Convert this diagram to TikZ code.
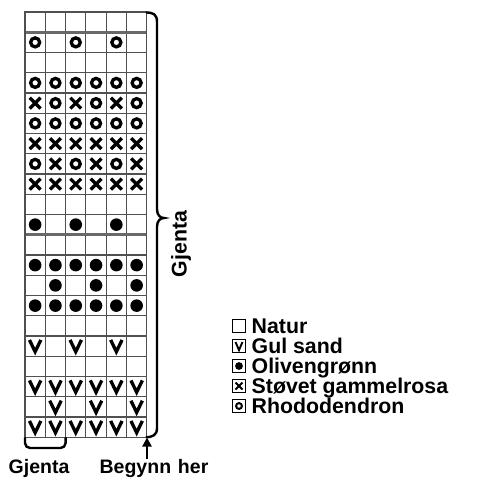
\documentclass[tikz,border=0pt]{standalone}
\usepackage{fontspec}
\setmainfont{Liberation Sans}
\usetikzlibrary{arrows.meta}
\definecolor{gridgray}{RGB}{80,80,80}
\definecolor{thickgray}{RGB}{105,105,105}
\begin{document}
\begin{tikzpicture}[x=1pt,y=-1pt,
  symline/.style={line width=3.3pt,black},
  ink/.style={line width=2.4pt,black},
  lbl/.style={font=\fontsize{19.5}{22}\selectfont\bfseries,inner sep=0pt},
  leglbl/.style={font=\fontsize{21.3}{23}\selectfont\bfseries,inner sep=0pt},
  legbox/.style={draw=black,line width=1.2pt,minimum size=12.8pt,inner sep=0pt,fill=white},
  pics/symO/.style={code={\draw[symline] (0,0) circle (4.5);}},
  pics/symX/.style={code={\draw[symline] (-5.4,-5.4) -- (5.4,5.4) (-5.4,5.4) -- (5.4,-5.4);}},
  pics/symB/.style={code={\fill[black] (0,0) circle (6.3);}},
  pics/symV/.style={code={\draw[symline,line join=miter] (-5.7,-6.2) -- (0,5.6) -- (5.7,-6.2);}},
  pics/smallO/.style={code={\draw[line width=2pt] (0,0) circle (2.9);}},
  pics/smallX/.style={code={\draw[line width=1.9pt] (-3.5,-3.5) -- (3.5,3.5) (-3.5,3.5) -- (3.5,-3.5);}},
  pics/smallB/.style={code={\fill[black] (0,0) circle (3.9);}},
  pics/smallV/.style={code={\draw[line width=1.9pt] (-3.5,-4) -- (0,4.1) -- (3.5,-4);}}
]
\useasboundingbox (0,0) rectangle (483,485);
\def\cw{20.3}\def\ch{20.25}
% grid
\foreach \i in {1,...,5} \draw[gridgray,line width=1.1pt] ({25+\i*\cw},12) -- ({25+\i*\cw},{12+21*\ch});
\foreach \j in {1,...,20} \draw[gridgray,line width=1.1pt] (25,{12+\j*\ch}) -- ({25+6*\cw},{12+\j*\ch});
\draw[thickgray,line width=2.6pt] (25,{12+1*\ch}) -- ({25+6*\cw},{12+1*\ch});
\draw[thickgray,line width=2.6pt] (25,{12+11*\ch}) -- ({25+6*\cw},{12+11*\ch});
\draw[gridgray,line width=1.3pt] (25,12) rectangle ({25+6*\cw},{12+21*\ch});
% symbols
\foreach \r/\c in {2/1,2/3,2/5, 4/1,4/2,4/3,4/4,4/5,4/6, 5/2,5/4,5/6, 6/1,6/2,6/3,6/4,6/5,6/6, 8/1,8/3,8/5}
  \pic (o-\r-\c) at ({25+(\c-0.5)*\cw},{12+(\r-0.5)*\ch}) {symO};
\foreach \r/\c in {5/1,5/3,5/5, 7/1,7/2,7/3,7/4,7/5,7/6, 8/2,8/4,8/6, 9/1,9/2,9/3,9/4,9/5,9/6}
  \pic (x-\r-\c) at ({25+(\c-0.5)*\cw},{12+(\r-0.5)*\ch}) {symX};
\foreach \r/\c in {11/1,11/3,11/5, 13/1,13/2,13/3,13/4,13/5,13/6, 14/2,14/4,14/6, 15/1,15/2,15/3,15/4,15/5,15/6}
  \pic (b-\r-\c) at ({25+(\c-0.5)*\cw},{12+(\r-0.5)*\ch}) {symB};
\foreach \r/\c in {17/1,17/3,17/5, 19/1,19/2,19/3,19/4,19/5,19/6, 20/2,20/4,20/6, 21/1,21/2,21/3,21/4,21/5,21/6}
  \pic (v-\r-\c) at ({25+(\c-0.5)*\cw},{12+(\r-0.5)*\ch}) {symV};
% right brace
\coordinate (gridTR) at ({25+6*\cw-1},12.5);
\coordinate (gridBR) at ({25+6*\cw-1},{12+21*\ch});
\coordinate (braceTip) at (164,218);
\draw[ink] (gridTR) .. controls (153,12.5) and (157,14) .. (157,22) -- (157,209)
  .. controls (157,215) and (160,218) .. (braceTip)
  .. controls (160,218) and (157,221) .. (157,227) -- (157,428)
  .. controls (157,435) and (153,437) .. (gridBR);
\node[leglbl,rotate=90] (gjR) at (181,244) {Gjenta};
% bottom bracket
\coordinate (brL) at (25,{12+21*\ch});
\coordinate (brR) at (65.6,{12+21*\ch});
\draw[ink,rounded corners=5pt] (brL) -- (25,448) -- (65.6,448) -- (brR);
\node[lbl] (gjB) at (39,468) {Gjenta};
% arrow
\coordinate (arS) at (147,459);
\coordinate (arE) at (147,437.5);
\draw[ink,-{Triangle[length=9pt,width=9pt]}] (arS) -- (arE);
\node[lbl] (beg) at (154,468) {Begynn\hspace{0.35em}her};
% legend
\node[legbox] (k1) at (239,326) {};
\node[legbox] (k2) at (239,346) {}; \pic at (k2) {smallV};
\node[legbox] (k3) at (239,366) {}; \pic at (k3) {smallB};
\node[legbox] (k4) at (239,386) {}; \pic at (k4) {smallX};
\node[legbox] (k5) at (239,406) {}; \pic at (k5) {smallO};
\node[leglbl,anchor=base west] (t1) at (251.5,333.6) {Natur};
\node[leglbl,anchor=base west] (t2) at (251.5,353.6) {Gul sand};
\node[leglbl,anchor=base west] (t3) at (251.5,373.6) {Olivengrønn};
\node[leglbl,anchor=base west] (t4) at (251.5,393.6) {Støvet gammelrosa};
\node[leglbl,anchor=base west] (t5) at (251.5,413.6) {Rhododendron};
\end{tikzpicture}
\end{document}
